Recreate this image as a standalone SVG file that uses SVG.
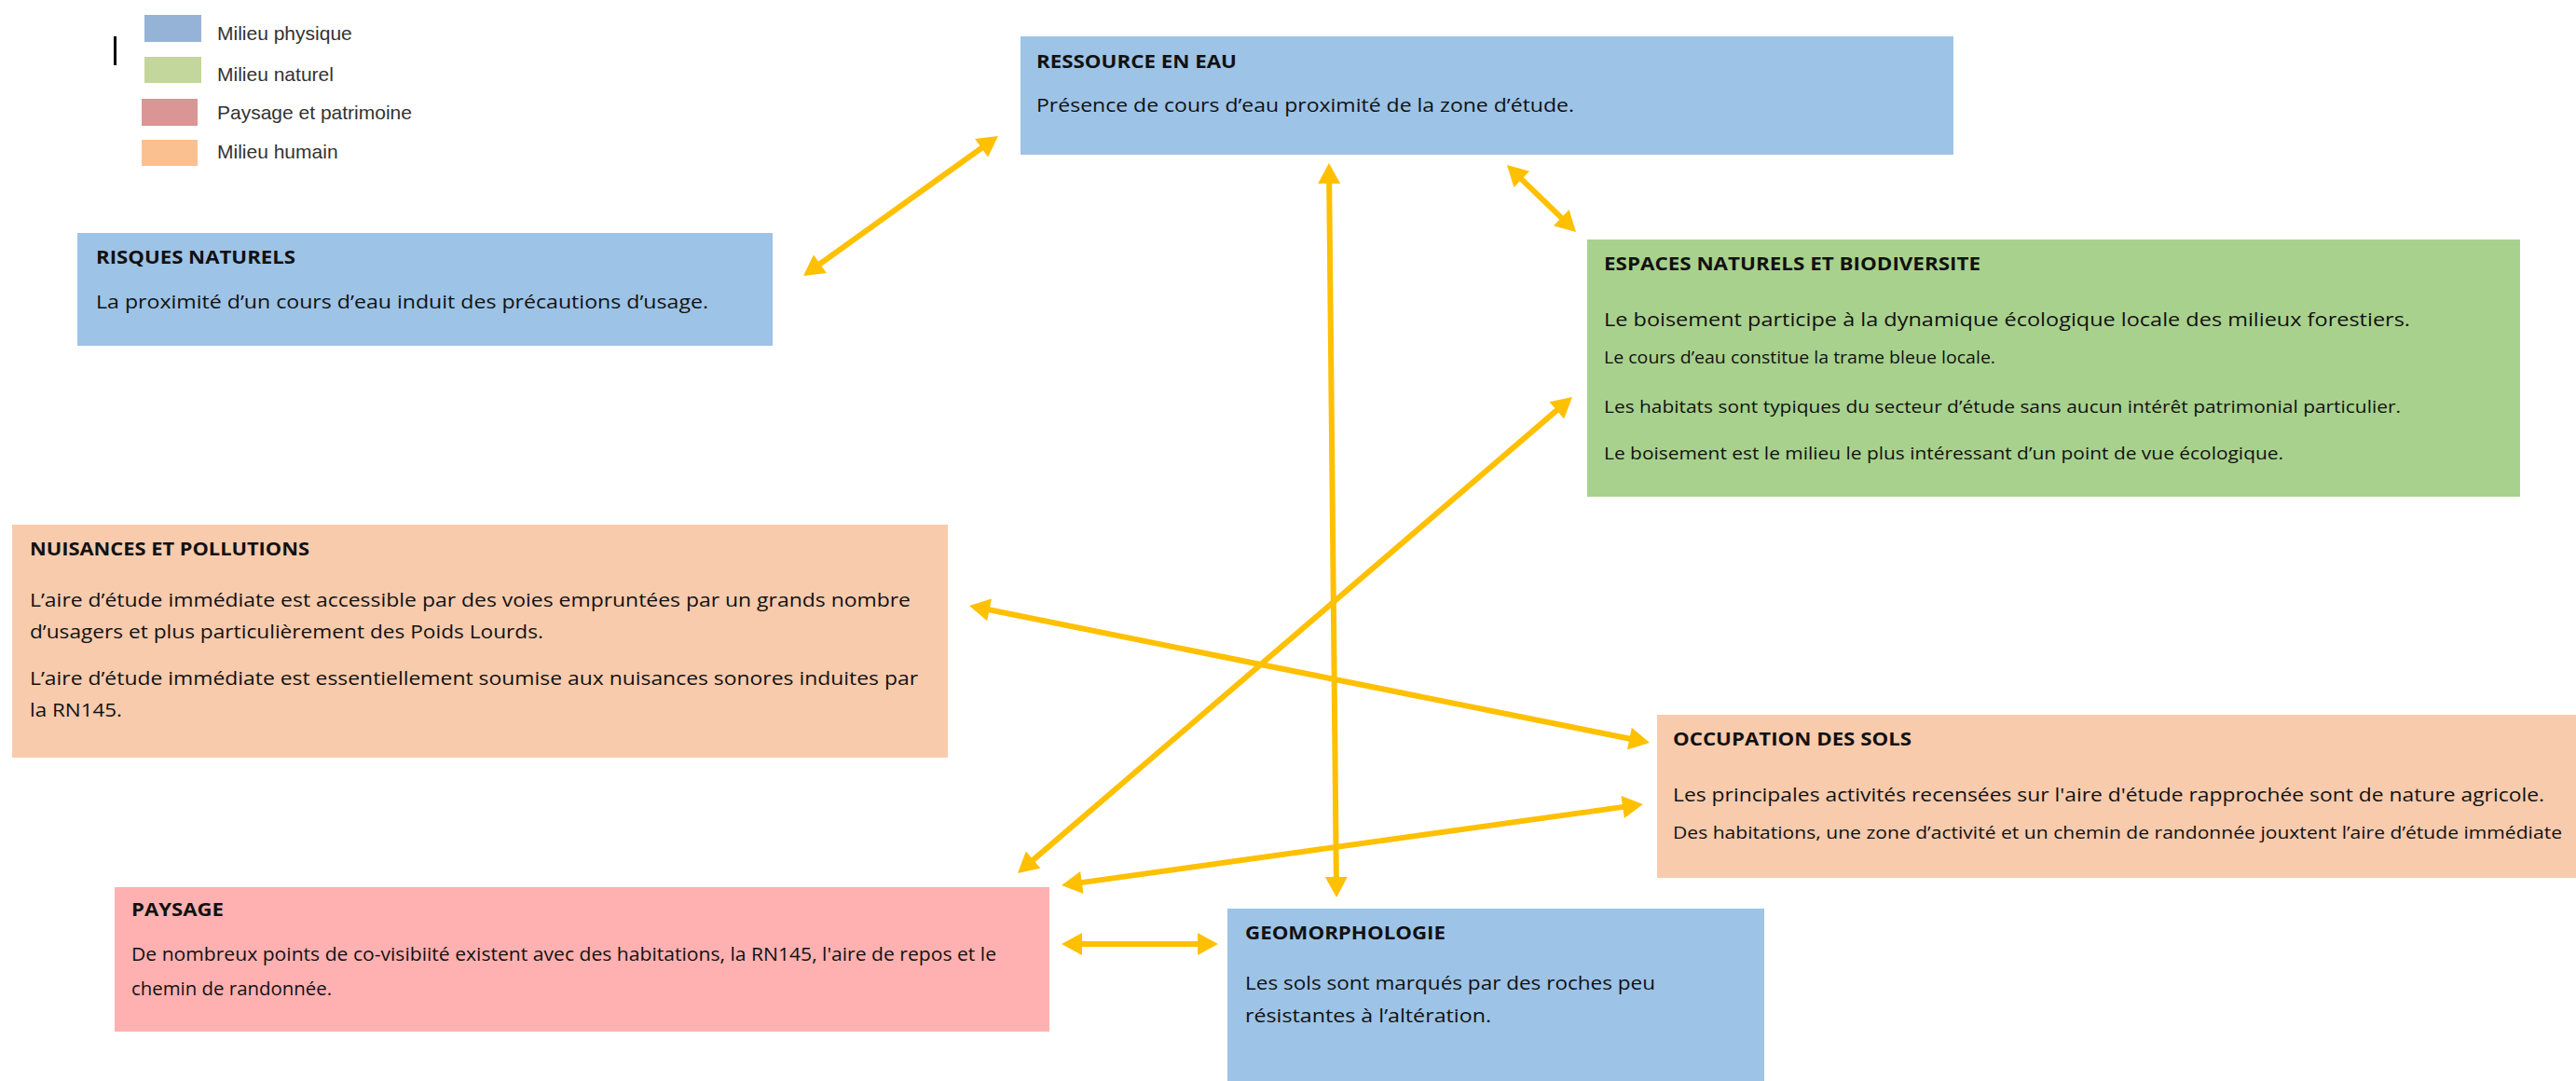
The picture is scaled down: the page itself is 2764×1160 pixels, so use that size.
<svg xmlns="http://www.w3.org/2000/svg" width="2764" height="1160" viewBox="0 0 2764 1160">
  <style>
    .box-phys { fill: #9DC3E6; }
    .box-nat { fill: #A9D18E; }
    .box-hum { fill: #F8CBAD; }
    .box-pay { fill: #FFB1B1; }
    .title { font-family: "Open Sans", "Noto Sans", sans-serif; font-weight: bold; font-size: 20px; fill: #111111; }
    .body { font-family: "Open Sans", "Noto Sans", sans-serif; font-size: 20.5px; fill: #111111; }
    .small { font-family: "Open Sans", "Noto Sans", sans-serif; font-size: 19px; fill: #111111; }
    .legend { font-family: "Liberation Sans", Arial, sans-serif; font-size: 21px; fill: #333333; }
    .link { stroke: #FFC000; stroke-width: 6; fill: none; marker-start: url(#tip); marker-end: url(#tip); }
  </style>
  <defs>
    <marker id="tip" markerUnits="userSpaceOnUse" viewBox="-10 -14 28 28" markerWidth="28" markerHeight="28" refX="0" refY="0" orient="auto-start-reverse">
      <path d="M-8,-12 L14,0 L-8,12 z" fill="#FFC000"/>
    </marker>
  </defs>

  <rect width="2764" height="1160" fill="#FFFFFF"/>

  <!-- legend -->
  <g id="legend">
    <rect x="122" y="39" width="3" height="31" fill="#000000"/>
    <rect x="155" y="16" width="61" height="29" fill="#95B3D7"/>
    <rect x="155" y="61" width="61" height="28" fill="#C3D69B"/>
    <rect x="152" y="106" width="60" height="29" fill="#D99694"/>
    <rect x="152" y="150" width="60" height="28" fill="#FAC090"/>
    <text class="legend" x="233" y="43">Milieu physique</text>
    <text class="legend" x="233" y="87">Milieu naturel</text>
    <text class="legend" x="233" y="128">Paysage et patrimoine</text>
    <text class="legend" x="233" y="170">Milieu humain</text>
  </g>

  <!-- connectors -->
  <g id="connectors">
    <line class="link" x1="873.4" y1="287.8" x2="1059.6" y2="154.2"/>
    <line class="link" x1="1627" y1="186.8" x2="1681" y2="239.2"/>
    <line class="link" x1="1426.1" y1="189" x2="1433.9" y2="949"/>
    <line class="link" x1="1676.4" y1="435.1" x2="1102.6" y2="927.9"/>
    <line class="link" x1="1053.7" y1="652.8" x2="1756.3" y2="794.2"/>
    <line class="link" x1="1749.1" y1="864.9" x2="1152.9" y2="948.1"/>
    <line class="link" x1="1153" y1="1013" x2="1293" y2="1013"/>
  </g>

  <g id="ressource-en-eau">
    <rect class="box-phys" x="1095" y="39" width="1001" height="127"/>
    <text class="title" x="1112" y="73" textLength="215" lengthAdjust="spacingAndGlyphs">RESSOURCE EN EAU</text>
    <text class="body" x="1112" y="120" textLength="577" lengthAdjust="spacingAndGlyphs">Présence de cours d’eau proximité de la zone d’étude.</text>
  </g>

  <g id="risques-naturels">
    <rect class="box-phys" x="83" y="250" width="746" height="121"/>
    <text class="title" x="103" y="283" textLength="214" lengthAdjust="spacingAndGlyphs">RISQUES NATURELS</text>
    <text class="body" x="103" y="331" textLength="657" lengthAdjust="spacingAndGlyphs">La proximité d’un cours d’eau induit des précautions d’usage.</text>
  </g>

  <g id="espaces-naturels">
    <rect class="box-nat" x="1703" y="257" width="1001" height="276"/>
    <text class="title" x="1721" y="290" textLength="404" lengthAdjust="spacingAndGlyphs">ESPACES NATURELS ET BIODIVERSITE</text>
    <text class="body" x="1721" y="350" textLength="865" lengthAdjust="spacingAndGlyphs">Le boisement participe à la dynamique écologique locale des milieux forestiers.</text>
    <text class="small" x="1721" y="390" textLength="420" lengthAdjust="spacingAndGlyphs">Le cours d’eau constitue la trame bleue locale.</text>
    <text class="small" x="1721" y="443" textLength="855" lengthAdjust="spacingAndGlyphs">Les habitats sont typiques du secteur d’étude sans aucun intérêt patrimonial particulier.</text>
    <text class="small" x="1721" y="493" textLength="729" lengthAdjust="spacingAndGlyphs">Le boisement est le milieu le plus intéressant d’un point de vue écologique.</text>
  </g>

  <g id="nuisances-pollutions">
    <rect class="box-hum" x="13" y="563" width="1004" height="250"/>
    <text class="title" x="32" y="596" textLength="300" lengthAdjust="spacingAndGlyphs">NUISANCES ET POLLUTIONS</text>
    <text class="body" x="32" y="651" textLength="945" lengthAdjust="spacingAndGlyphs">L’aire d’étude immédiate est accessible par des voies empruntées par un grands nombre</text>
    <text class="body" x="32" y="685" textLength="551" lengthAdjust="spacingAndGlyphs">d’usagers et plus particulièrement des Poids Lourds.</text>
    <text class="body" x="32" y="735" textLength="953" lengthAdjust="spacingAndGlyphs">L’aire d’étude immédiate est essentiellement soumise aux nuisances sonores induites par</text>
    <text class="body" x="32" y="769" textLength="99" lengthAdjust="spacingAndGlyphs">la RN145.</text>
  </g>

  <g id="occupation-sols">
    <rect class="box-hum" x="1778" y="767" width="986" height="175"/>
    <text class="title" x="1795" y="800" textLength="256" lengthAdjust="spacingAndGlyphs">OCCUPATION DES SOLS</text>
    <text class="body" x="1795" y="860" textLength="935" lengthAdjust="spacingAndGlyphs">Les principales activités recensées sur l'aire d'étude rapprochée sont de nature agricole.</text>
    <text class="small" x="1795" y="900" textLength="954" lengthAdjust="spacingAndGlyphs">Des habitations, une zone d’activité et un chemin de randonnée jouxtent l’aire d’étude immédiate</text>
  </g>

  <g id="paysage">
    <rect class="box-pay" x="123" y="952" width="1003" height="155"/>
    <text class="title" x="141" y="983" textLength="99" lengthAdjust="spacingAndGlyphs">PAYSAGE</text>
    <text class="body" x="141" y="1031" textLength="928" lengthAdjust="spacingAndGlyphs">De nombreux points de co-visibiité existent avec des habitations, la RN145, l'aire de repos et le</text>
    <text class="body" x="141" y="1068" textLength="215" lengthAdjust="spacingAndGlyphs">chemin de randonnée.</text>
  </g>

  <g id="geomorphologie">
    <rect class="box-phys" x="1317" y="975" width="576" height="185"/>
    <text class="title" x="1336" y="1008" textLength="215" lengthAdjust="spacingAndGlyphs">GEOMORPHOLOGIE</text>
    <text class="body" x="1336" y="1062" textLength="440" lengthAdjust="spacingAndGlyphs">Les sols sont marqués par des roches peu</text>
    <text class="body" x="1336" y="1097" textLength="264" lengthAdjust="spacingAndGlyphs">résistantes à l’altération.</text>
  </g>
</svg>
